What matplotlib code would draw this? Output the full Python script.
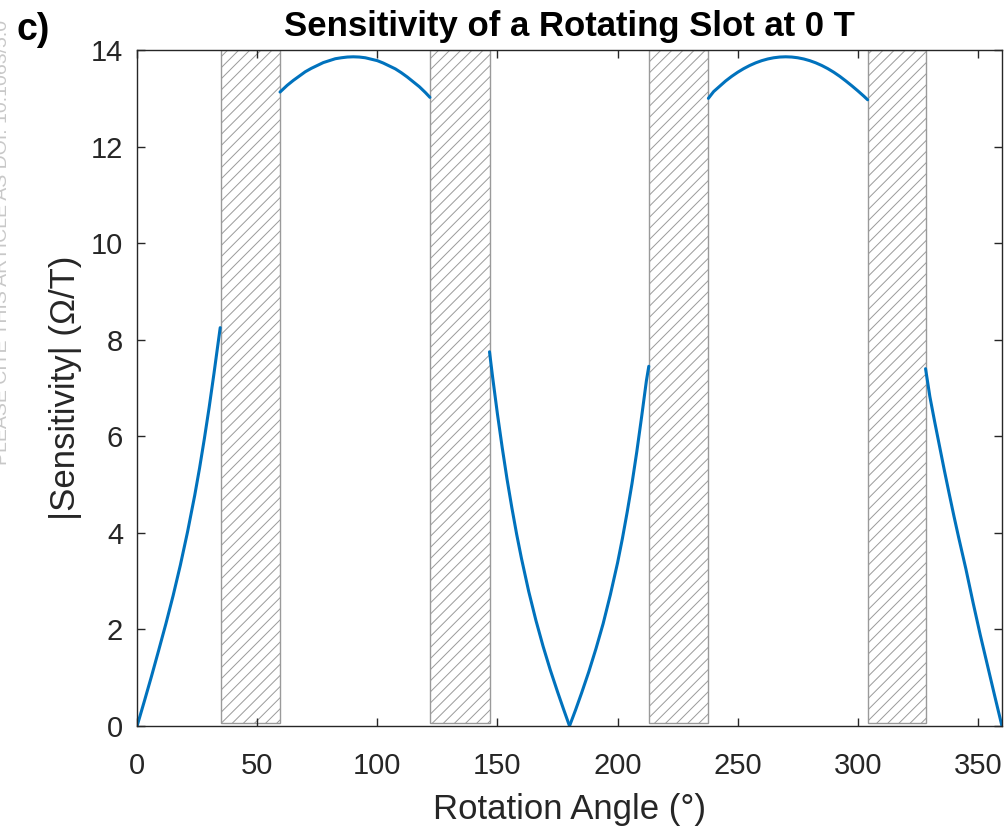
import matplotlib
matplotlib.use("Agg")
import matplotlib.pyplot as plt

plt.rcParams['font.family'] = ['Liberation Sans', 'DejaVu Sans']
plt.rcParams['hatch.linewidth'] = 0.7
plt.rcParams['hatch.color'] = '#8c8c8c'

# shaded angle bands (start, end) in degrees
band_start = [34.8, 121.9, 213.0, 304.1]
band_end = [59.3, 146.7, 237.5, 328.2]
band_top = 14.0
band_bottom = 0.06

# curve segments
seg1_x = [0, 3, 6, 9, 12, 15, 18, 21, 24, 26, 28, 30, 32, 33.5, 34.6]
seg1_y = [0, 0.51, 1.03, 1.57, 2.12, 2.7, 3.33, 4.02, 4.78, 5.34, 5.95, 6.6, 7.3, 7.85, 8.25]

seg2_x = [59.5, 62.5, 65, 67.5, 70, 72.5, 75, 77.5, 80, 82.5, 85, 87.5, 90,
          92.5, 95, 97.5, 100, 102.5, 105, 107.5, 110, 112.5, 115, 117.5, 120, 121.9]
seg2_y = [13.13, 13.27, 13.37, 13.46, 13.55, 13.62, 13.68, 13.74, 13.78, 13.82, 13.84, 13.855, 13.86,
          13.855, 13.84, 13.81, 13.78, 13.73, 13.67, 13.61, 13.53, 13.44, 13.34, 13.24, 13.12, 13.02]

seg3_x = [146.7, 148, 150, 152, 154, 156, 158, 160, 163, 166, 169, 172, 175, 177.5, 180]
seg3_y = [7.75, 7.22, 6.46, 5.76, 5.11, 4.52, 3.97, 3.47, 2.79, 2.19, 1.65, 1.16, 0.71, 0.35, 0]

seg4_x = [180, 182.5, 185, 188, 191, 194, 197, 200, 202, 204, 206, 208, 210, 212, 213]
seg4_y = [0, 0.33, 0.68, 1.12, 1.6, 2.12, 2.72, 3.38, 3.88, 4.43, 5.02, 5.68, 6.4, 7.15, 7.45]

seg5_x = [237.8, 240, 242.5, 245, 247.5, 250, 252.5, 255, 257.5, 260, 262.5, 265, 267.5, 270,
          272.5, 275, 277.5, 280, 282.5, 285, 287.5, 290, 292.5, 295, 297.5, 300, 302.5, 304.1]
seg5_y = [13.0, 13.14, 13.25, 13.36, 13.455, 13.54, 13.615, 13.68, 13.735, 13.78, 13.815, 13.84, 13.855, 13.86,
          13.855, 13.84, 13.815, 13.78, 13.735, 13.68, 13.615, 13.54, 13.455, 13.36, 13.26, 13.155, 13.045, 12.97]

seg6_x = [328.2, 330, 332, 334, 336, 338, 340, 342, 345, 348, 351, 354, 357, 360]
seg6_y = [7.4, 6.82, 6.3, 5.8, 5.3, 4.82, 4.35, 3.9, 3.25, 2.55, 1.88, 1.25, 0.62, 0.0]

x_ticks = [0, 50, 100, 150, 200, 250, 300, 350]
y_ticks = [0, 2, 4, 6, 8, 10, 12, 14]

txt = '#262626'
fig = plt.figure(figsize=(10.08, 8.34), dpi=100)
ax = fig.add_axes([0.136, 0.1295, 0.858, 0.8105])

widths = [e - s for s, e in zip(band_start, band_end)]
ax.bar(band_start, [band_top - band_bottom] * 4, width=widths, bottom=band_bottom,
       align='edge', facecolor='white', edgecolor='#9a9a9a', hatch='///',
       linewidth=1.0, zorder=1)

for sx, sy in [(seg1_x, seg1_y), (seg2_x, seg2_y), (seg3_x, seg3_y),
               (seg4_x, seg4_y), (seg5_x, seg5_y), (seg6_x, seg6_y)]:
    ax.plot(sx, sy, color='#0072BD', linewidth=2.2, zorder=3,
            solid_joinstyle='round', solid_capstyle='round')

ax.set_xlim(0, 360)
ax.set_ylim(0, 14)
ax.set_xticks(x_ticks)
ax.set_yticks(y_ticks)
ax.tick_params(direction='in', top=True, right=True, length=6, width=1,
               labelsize=21, colors=txt)
ax.tick_params(axis='x', pad=19)
ax.tick_params(axis='y', pad=10)
for sp in ax.spines.values():
    sp.set_color(txt)
    sp.set_linewidth(1.0)
    sp.set_zorder(4)

ax.set_xlabel('Rotation Angle (°)', fontsize=25, color=txt, labelpad=9)
ax.set_ylabel('|Sensitivity| (Ω/T)', fontsize=25, color=txt, labelpad=6)
ax.set_title('Sensitivity of a Rotating Slot at 0 T', fontsize=25,
             fontweight='bold', color='black', pad=10)

fig.text(0.016, 0.964, 'c)', fontsize=27, fontweight='bold', va='center', ha='left')
fig.text(0.002, 0.443, 'PLEASE CITE THIS ARTICLE AS DOI: 10.1063/5.0', fontsize=14,
         color='#c8c8c8', rotation=90, ha='center', va='bottom')

fig.savefig('out.png', dpi=100)
